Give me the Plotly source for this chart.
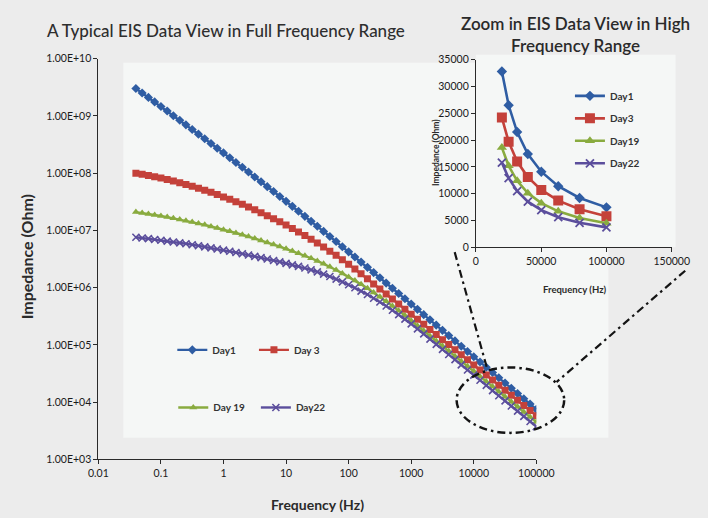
import plotly.graph_objects as go

# Measurement frequencies (Hz), 10 points per decade
freq_hz = [0.0398, 0.0501, 0.0631, 0.0794, 0.1, 0.126, 0.158, 0.2, 0.251, 0.316,
           0.398, 0.501, 0.631, 0.794, 1, 1.26, 1.58, 2, 2.51, 3.16,
           3.98, 5.01, 6.31, 7.94, 10, 12.6, 15.8, 20, 25.1, 31.6,
           39.8, 50.1, 63.1, 79.4, 100, 126, 158, 200, 251, 316,
           398, 501, 631, 794, 1000, 1259, 1585, 1995, 2512, 3162,
           3981, 5012, 6310, 7943, 10000, 12589, 15849, 19953, 25119, 31623,
           39811, 50119, 63096, 79433, 100000]

# Impedance magnitude (Ohm) for each measurement day
day1 = [3.02e9, 2.52e9, 2.11e9, 1.76e9, 1.46e9, 1.22e9, 1.01e9, 8.42e8, 7.00e8, 5.80e8,
        4.81e8, 3.99e8, 3.30e8, 2.73e8, 2.26e8, 1.86e8, 1.54e8, 1.27e8, 1.05e8, 8.60e7,
        7.08e7, 5.82e7, 4.78e7, 3.92e7, 3.22e7, 2.63e7, 2.16e7, 1.76e7, 1.44e7, 1.18e7,
        9.60e6, 7.83e6, 6.38e6, 5.19e6, 4.22e6, 3.43e6, 2.79e6, 2.26e6, 1.83e6, 1.49e6,
        1.20e6, 9.73e5, 7.87e5, 6.37e5, 5.15e5, 4.17e5, 3.37e5, 2.73e5, 2.21e5, 1.79e5,
        1.45e5, 1.17e5, 9.46e4, 7.66e4, 6.19e4, 5.01e4, 4.06e4, 3.28e4, 2.65e4, 2.15e4,
        1.74e4, 1.41e4, 1.14e4, 9.20e3, 7.45e3]

day3 = [1.00e8, 9.58e7, 9.13e7, 8.68e7, 8.22e7, 7.75e7, 7.28e7, 6.82e7, 6.36e7, 5.90e7,
        5.46e7, 5.03e7, 4.62e7, 4.23e7, 3.85e7, 3.50e7, 3.16e7, 2.85e7, 2.56e7, 2.29e7,
        2.04e7, 1.81e7, 1.60e7, 1.41e7, 1.24e7, 1.08e7, 9.40e6, 8.14e6, 7.02e6, 6.01e6,
        5.12e6, 4.34e6, 3.66e6, 3.06e6, 2.55e6, 2.11e6, 1.74e6, 1.43e6, 1.16e6, 9.48e5,
        7.74e5, 6.31e5, 5.15e5, 4.20e5, 3.42e5, 2.79e5, 2.28e5, 1.86e5, 1.51e5, 1.23e5,
        1.01e5, 8.20e4, 6.70e4, 5.46e4, 4.45e4, 3.63e4, 2.96e4, 2.42e4, 1.97e4, 1.60e4,
        1.31e4, 1.07e4, 8.71e3, 7.10e3, 5.78e3]

day19 = [2.09e7, 2.02e7, 1.94e7, 1.86e7, 1.79e7, 1.71e7, 1.63e7, 1.55e7, 1.47e7, 1.40e7,
         1.32e7, 1.25e7, 1.17e7, 1.10e7, 1.03e7, 9.66e6, 9.01e6, 8.39e6, 7.79e6, 7.22e6,
         6.68e6, 6.16e6, 5.67e6, 5.21e6, 4.77e6, 4.36e6, 3.98e6, 3.61e6, 3.26e6, 2.93e6,
         2.61e6, 2.31e6, 2.03e6, 1.77e6, 1.54e6, 1.33e6, 1.14e6, 9.70e5, 8.21e5, 6.91e5,
         5.77e5, 4.79e5, 3.95e5, 3.24e5, 2.64e5, 2.15e5, 1.76e5, 1.43e5, 1.17e5, 9.53e4,
         7.76e4, 6.34e4, 5.16e4, 4.22e4, 3.44e4, 2.80e4, 2.29e4, 1.86e4, 1.52e4, 1.24e4,
         1.01e4, 8.24e3, 6.71e3, 5.48e3, 4.47e3]

day22 = [7.59e6, 7.37e6, 7.16e6, 6.94e6, 6.72e6, 6.50e6, 6.27e6, 6.05e6, 5.83e6, 5.60e6,
         5.38e6, 5.16e6, 4.94e6, 4.73e6, 4.52e6, 4.31e6, 4.10e6, 3.90e6, 3.71e6, 3.52e6,
         3.34e6, 3.16e6, 2.98e6, 2.81e6, 2.65e6, 2.50e6, 2.35e6, 2.20e6, 2.04e6, 1.88e6,
         1.72e6, 1.56e6, 1.41e6, 1.26e6, 1.12e6, 9.92e5, 8.70e5, 7.56e5, 6.53e5, 5.60e5,
         4.76e5, 4.02e5, 3.37e5, 2.81e5, 2.32e5, 1.90e5, 1.55e5, 1.26e5, 1.02e5, 8.32e4,
         6.76e4, 5.50e4, 4.47e4, 3.63e4, 2.95e4, 2.40e4, 1.95e4, 1.58e4, 1.29e4, 1.05e4,
         8.51e3, 6.92e3, 5.62e3, 4.57e3, 3.72e3]

main_names = ["Day1", "Day 3", "Day 19", "Day22"]
inset_names = ["Day1", "Day3", "Day19", "Day22"]

main_x_ticks = [0.01, 0.1, 1, 10, 100, 1000, 10000, 100000]
main_x_labels = ["0.01", "0.1", "1", "10", "100", "1000", "10000", "100000"]
main_y_ticks = [1e3, 1e4, 1e5, 1e6, 1e7, 1e8, 1e9, 1e10]
main_y_labels = ["1.00E+03", "1.00E+04", "1.00E+05", "1.00E+06",
                 "1.00E+07", "1.00E+08", "1.00E+09", "1.00E+10"]
inset_x_ticks = [0, 50000, 100000, 150000]

N_INSET = 8  # high-frequency points shown in the zoomed panel

W, H = 708, 518
FONT = "Lato"


def px(x):
    return x / W


def py(y):
    return 1 - y / H


colors = ["#2f5da3", "#c4413a", "#89ab3f", "#5b4e9c"]
symbols = ["diamond", "square", "triangle-up", "x-thin"]
main_sizes = [7, 7, 7, 7]
inset_sizes = [8, 10, 9, 8]
series = [day1, day3, day19, day22]

fig = go.Figure()

main_legend_pos = [(169, 352), (254, 352), (170, 411), (256, 411)]
inset_legend_pos = [(583, 92), (583, 115), (583, 138), (583, 161)]

for i, z in enumerate(series):
    c = colors[i]
    mk = dict(symbol=symbols[i], size=main_sizes[i], color=c,
              line=dict(width=1.6 if symbols[i] == "x-thin" else 0, color=c))
    fig.add_trace(go.Scatter(
        x=freq_hz, y=z, mode="lines+markers", name=main_names[i],
        line=dict(color=c, width=2.4), marker=mk,
        xaxis="x", yaxis="y",
        legend="legend" if i == 0 else f"legend{i + 1}",
    ))

for i, z in enumerate(series):
    c = colors[i]
    mk = dict(symbol=symbols[i], size=inset_sizes[i], color=c,
              line=dict(width=1.8 if symbols[i] == "x-thin" else 0, color=c))
    fig.add_trace(go.Scatter(
        x=freq_hz[-N_INSET:], y=z[-N_INSET:], mode="lines+markers",
        name=inset_names[i],
        line=dict(color=c, width=2.6), marker=mk,
        xaxis="x2", yaxis="y2",
        legend=f"legend{i + 5}",
    ))

legend_font = dict(family=FONT, size=10, color="#333333", weight="bold")
legends = {}
for i, (lx, ly) in enumerate(main_legend_pos + inset_legend_pos):
    key = "legend" if i == 0 else f"legend{i + 1}"
    legends[key] = dict(x=px(lx), y=py(ly), xanchor="left", yanchor="middle",
                        bgcolor="rgba(0,0,0,0)", borderwidth=0,
                        font=legend_font, itemwidth=30)

axis_common = dict(showgrid=False, zeroline=False, showline=True,
                   linecolor="#2a2a2a", linewidth=1, ticks="outside",
                   ticklen=4, tickcolor="#2a2a2a",
                   tickfont=dict(family=FONT, size=10.5, color="#1a1a1a"))

fig.update_layout(
    width=W, height=H, autosize=False,
    margin=dict(l=0, r=0, t=0, b=0),
    paper_bgcolor="#ececec", plot_bgcolor="rgba(0,0,0,0)",
    showlegend=True,
    xaxis=dict(type="log", range=[-2, 5], domain=[px(92), px(548)],
               anchor="y", tickvals=main_x_ticks, ticktext=main_x_labels,
               **axis_common),
    yaxis=dict(type="log", range=[3, 10], domain=[py(464), py(54)],
               anchor="x", tickvals=main_y_ticks, ticktext=main_y_labels,
               **axis_common),
    xaxis2=dict(range=[0, 150000], domain=[px(485), px(689)], anchor="y2",
                tickvals=inset_x_ticks, tickformat="d", **axis_common),
    yaxis2=dict(range=[0, 35000], domain=[py(247), py(55)], anchor="x2",
                dtick=5000, tickformat="d", **axis_common),
    **legends,
)

# light panel behind each plot, dashed zoom marker and its connectors
dash_dot = "8px,4px,2.5px,4px"
shapes = [
    dict(type="rect", xref="paper", yref="paper", layer="below",
         x0=px(118), x1=px(623), y0=py(442), y1=py(58),
         fillcolor="#f5f7f6", line=dict(width=0)),
    dict(type="rect", xref="paper", yref="paper", layer="below",
         x0=px(485), x1=px(693), y0=py(247), y1=py(50),
         fillcolor="#f5f7f6", line=dict(width=0)),
    dict(type="circle", xref="paper", yref="paper",
         x0=px(465), x1=px(577), y0=py(437), y1=py(370),
         line=dict(color="#141414", width=2.5, dash=dash_dot)),
    dict(type="line", xref="paper", yref="paper",
         x0=px(463), y0=py(252), x1=px(497), y1=py(372),
         line=dict(color="#141414", width=2.2, dash=dash_dot)),
    dict(type="line", xref="paper", yref="paper",
         x0=px(703), y0=py(271), x1=px(569), y1=py(385),
         line=dict(color="#141414", width=2.2, dash=dash_dot)),
]

annotations = [
    dict(text="A Typical EIS Data View in Full Frequency Range",
         x=px(36), y=py(25), xanchor="left", yanchor="middle",
         font=dict(family=FONT, size=17, color="#2e2e2e", weight=500)),
    dict(text="Zoom in EIS Data View in High<br>Frequency Range",
         x=px(589), y=py(29), xanchor="center", yanchor="middle",
         font=dict(family=FONT, size=17, color="#2a2a2a", weight=600)),
    dict(text="Frequency (Hz)", x=px(320), y=py(510),
         xanchor="center", yanchor="middle",
         font=dict(family=FONT, size=14, color="#2a2a2a", weight="bold")),
    dict(text="Impedance (Ohm)", x=px(17), y=py(257), textangle=-90,
         xanchor="center", yanchor="middle",
         font=dict(family=FONT, size=16, color="#2a2a2a", weight="bold")),
    dict(text="Frequency (Hz)", x=px(588), y=py(290),
         xanchor="center", yanchor="middle",
         font=dict(family=FONT, size=9.5, color="#2a2a2a", weight="bold")),
    dict(text="Impedance (Ohm)", x=px(443), y=py(150), textangle=-90,
         xanchor="center", yanchor="middle",
         font=dict(family=FONT, size=8.5, color="#2a2a2a", weight="bold")),
]
for a in annotations:
    a.update(xref="paper", yref="paper", showarrow=False)

fig.update_layout(shapes=shapes, annotations=annotations)

fig.write_html("out.html")
